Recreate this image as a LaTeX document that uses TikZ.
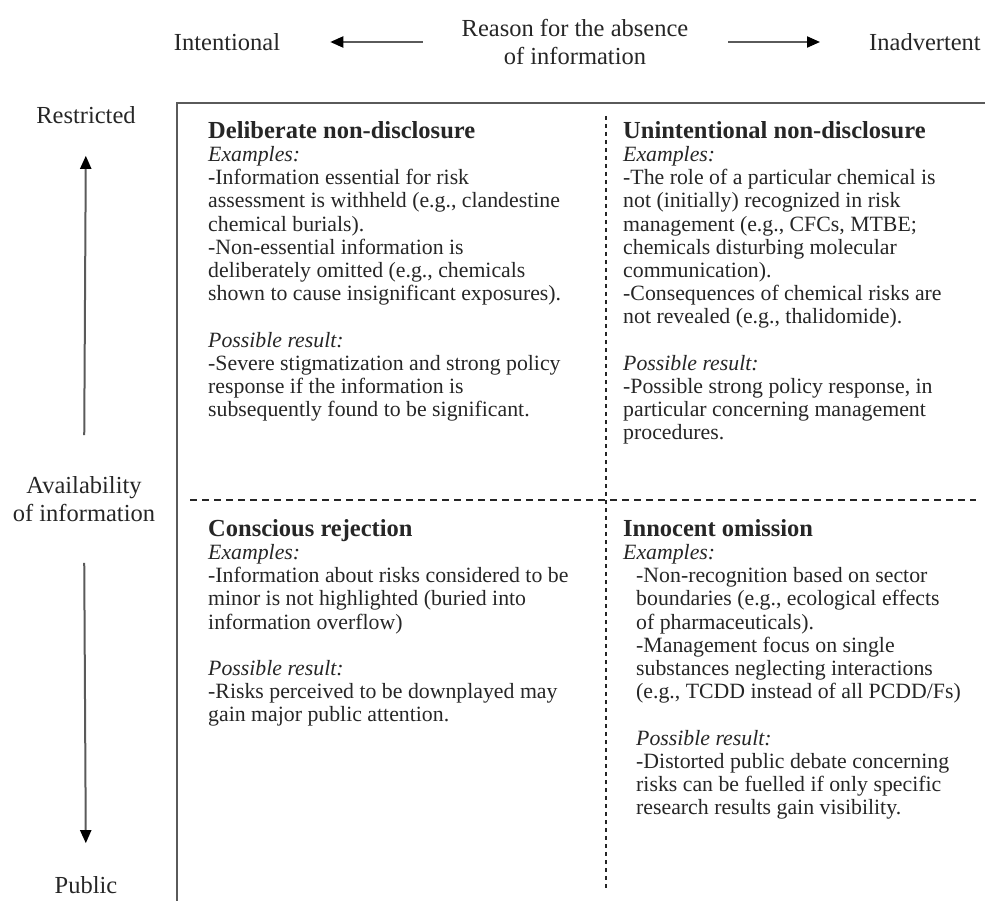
\documentclass[tikz,border=0pt]{standalone}
\usepackage{fontspec}
\setmainfont{Liberation Serif}
\usetikzlibrary{arrows.meta}
\definecolor{inkgray}{HTML}{262626}
\definecolor{linegray}{HTML}{5A5A5A}

\newcommand{\headfont}{\fontsize{24.5}{28}\selectfont}
\newcommand{\cellfont}{\fontsize{21.8}{23.2}\selectfont}
\newcommand{\celltitle}[1]{{\fontsize{24.5}{23.2}\selectfont\bfseries #1}}

\begin{document}
\begin{tikzpicture}[x=1pt, y=-1pt,
    every node/.style={text=inkgray, inner sep=0pt},
    lbl/.style={font=\headfont, align=center},
    cell/.style={font=\cellfont, align=left, anchor=north west},
    axis/.style={draw=linegray, line width=2pt, -{Triangle[length=13pt,width=11pt,color=black]}},
    frame/.style={draw=linegray, line width=2.2pt},
    hsplit/.style={draw=inkgray, line width=2pt, dash pattern=on 7pt off 5pt},
    vsplit/.style={draw=inkgray, line width=2.2pt, dash pattern=on 4pt off 4pt}]

  \useasboundingbox (0,0) rectangle (985,901);

  % header: reason for the absence
  \node[lbl] (intent) at (227,42) {Intentional};
  \node[lbl] (reason) at (575,42) {Reason for the absence\\of information};
  \node[lbl] (inadv) at (925,42) {Inadvertent};
  \draw[axis, shorten <=39pt, shorten >=50pt] (reason.west) -- (intent.east);
  \draw[axis, shorten <=40pt, shorten >=49pt] (reason.east) -- (inadv.west);

  % side: availability of information
  \node[lbl] (restr) at (86,115) {Restricted};
  \node[lbl] (avail) at (84,499) {Availability\\of information};
  \node[lbl] (public) at (86,885) {Public};
  \draw[axis, shorten <=41pt, shorten >=32pt] (avail.north) -- (restr.south);
  \draw[axis, shorten <=41pt, shorten >=33pt] (avail.south) -- (public.north);

  % frame and quadrants
  \draw[frame] (985,103) -- (177,103) -- (177,901);
  \draw[vsplit] (606,116) -- (606,889);
  \draw[hsplit] (190,500) -- (976,500);

  \node[cell] (q1) at (208,121) {\celltitle{Deliberate non-disclosure}\\
    \textit{Examples:}\\
    -Information essential for risk\\
    assessment is withheld (e.g., clandestine\\
    chemical burials).\\
    -Non-essential information is\\
    deliberately omitted (e.g., chemicals\\
    shown to cause insignificant exposures).\\[23.2pt]
    \textit{Possible result:}\\
    -Severe stigmatization and strong policy\\
    response if the information is\\
    subsequently found to be significant.};

  \node[cell] (q2) at (623,121) {\celltitle{Unintentional non-disclosure}\\
    \textit{Examples:}\\
    -The role of a particular chemical is\\
    not (initially) recognized in risk\\
    management (e.g., CFCs, MTBE;\\
    chemicals disturbing molecular\\
    communication).\\
    -Consequences of chemical risks are\\
    not revealed (e.g., thalidomide).\\[23.2pt]
    \textit{Possible result:}\\
    -Possible strong policy response, in\\
    particular concerning management\\
    procedures.};

  \node[cell] (q3) at (208,519) {\celltitle{Conscious rejection}\\
    \textit{Examples:}\\
    -Information about risks considered to be\\
    minor is not highlighted (buried into\\
    information overflow)\\[23.2pt]
    \textit{Possible result:}\\
    -Risks perceived to be downplayed may\\
    gain major public attention.};

  \node[cell] (q4) at (623,519) {\celltitle{Innocent omission}\\
    \textit{Examples:}\\
    \hspace*{13pt}-Non-recognition based on sector\\
    \hspace*{13pt}boundaries (e.g., ecological effects\\
    \hspace*{13pt}of pharmaceuticals).\\
    \hspace*{13pt}-Management focus on single\\
    \hspace*{13pt}substances neglecting interactions\\
    \hspace*{13pt}(e.g., TCDD instead of all PCDD/Fs)\\[23.2pt]
    \hspace*{13pt}\textit{Possible result:}\\
    \hspace*{13pt}-Distorted public debate concerning\\
    \hspace*{13pt}risks can be fuelled if only specific\\
    \hspace*{13pt}research results gain visibility.};
\end{tikzpicture}
\end{document}
